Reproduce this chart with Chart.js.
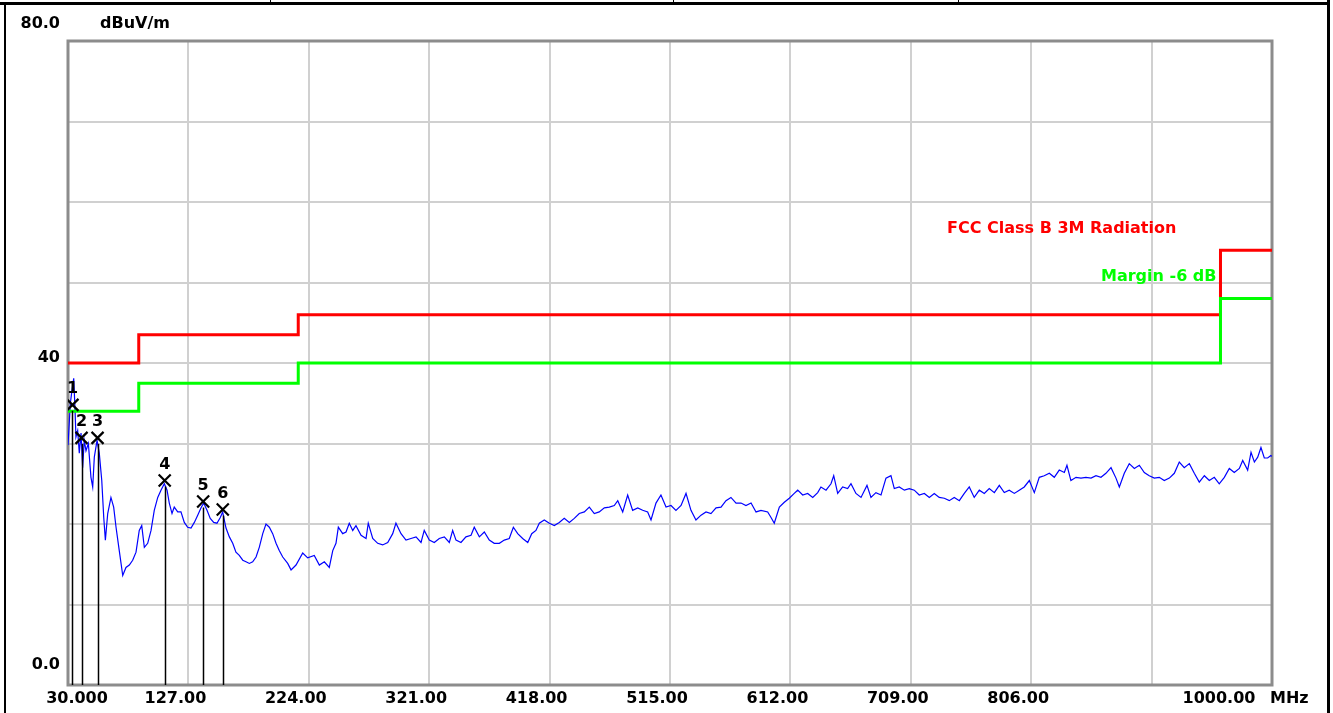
<!DOCTYPE html>
<html>
<head>
<meta charset="utf-8">
<script src="https://cdn.jsdelivr.net/npm/chart.js@4.4.1/dist/chart.umd.min.js"></script>
<style>
  html, body { margin: 0; padding: 0; background: #fff; }
  canvas { display: block; }
</style>
</head>
<body>
<canvas id="emiChart" width="1333" height="713"></canvas>
<script>
// axis ticks
const xTicks = [30, 127, 224, 321, 418, 515, 612, 709, 806, 903, 1000];
const xTickLabels = ['30.000', '127.00', '224.00', '321.00', '418.00', '515.00', '612.00', '709.00', '806.00', '', '1000.00'];
const yTicks = [0, 10, 20, 30, 40, 50, 60, 70, 80];
const yTickLabels = { 80: '80.0', 40: '40', 0: '0.0' };

// limit lines (MHz / dBuV/m)
const limitFreq = [30, 87, 87, 215.5, 215.5, 958.5, 958.5, 1000];
const limitLevel = [40, 40, 43.5, 43.5, 46, 46, 54, 54];
const marginLevel = [34, 34, 37.5, 37.5, 40, 40, 48, 48];

// measured trace
const traceFreq = [
  30.0, 31.9, 33.2, 34.6, 35.6, 36.4, 37.8, 39.1, 40.5, 41.8, 43.1, 44.5, 46.4, 48.5, 49.9, 51.2, 53.4, 55.2, 57.2, 58.8,
  60.1, 62.0, 64.6, 66.8, 68.7, 71.3, 74.1, 76.7, 79.4, 82.1, 84.8, 87.4, 89.4, 91.5, 94.2, 96.9, 99.5, 102.3, 104.9, 107.6,
  109.8, 111.6, 113.8, 115.6, 118.4, 121.0, 123.7, 126.4, 129.1, 131.8, 134.5, 137.1, 139.3, 142.0, 144.6, 147.4, 150.0, 152.7, 154.6, 157.3,
  160.0, 162.7, 165.3, 168.0, 170.8, 173.4, 176.1, 178.8, 181.5, 184.1, 186.9, 189.5, 192.2, 194.9, 197.6, 200.2, 203.0, 207.0, 209.7, 213.7,
  219.1, 223.1, 228.4, 232.5, 236.5, 240.5, 243.3, 245.9, 247.8, 251.3, 254.0, 256.6, 259.4, 262.0, 266.1, 270.1, 271.9, 275.5, 279.5, 283.5,
  287.6, 291.6, 294.2, 298.3, 302.3, 306.3, 310.4, 314.4, 317.0, 321.1, 325.1, 329.1, 333.2, 337.2, 339.9, 342.6, 346.6, 350.6, 354.7, 357.3,
  361.4, 365.4, 369.4, 373.4, 377.5, 381.5, 385.5, 388.8, 392.3, 396.3, 400.4, 403.6, 407.0, 409.7, 413.7, 417.8, 421.8, 425.8, 429.8, 433.9,
  437.9, 441.9, 446.0, 450.0, 454.0, 458.0, 462.1, 466.1, 470.1, 472.9, 476.9, 480.9, 484.9, 489.0, 493.0, 497.0, 499.7, 503.7, 507.7, 511.8,
  515.8, 519.8, 523.9, 527.9, 531.9, 535.9, 540.0, 544.0, 548.0, 552.1, 556.1, 560.1, 564.1, 568.2, 572.2, 576.2, 580.3, 584.3, 588.3, 593.7,
  596.4, 599.0, 603.1, 607.1, 611.1, 615.1, 617.9, 621.9, 625.9, 630.0, 634.0, 636.6, 640.7, 644.7, 646.9, 650.1, 654.1, 658.1, 660.8, 664.8,
  668.9, 673.7, 676.9, 680.9, 685.0, 689.0, 693.0, 695.7, 699.7, 703.8, 707.8, 711.8, 715.8, 719.9, 723.9, 727.9, 731.9, 736.0, 740.0, 744.0,
  748.1, 752.1, 756.1, 760.1, 764.2, 768.2, 772.2, 776.3, 780.3, 784.3, 788.3, 792.4, 796.4, 800.4, 804.5, 808.5, 812.5, 816.5, 820.6, 824.6,
  828.6, 832.7, 834.8, 838.0, 842.1, 846.1, 850.1, 854.2, 858.2, 862.2, 866.2, 870.3, 874.3, 877.0, 881.0, 885.0, 889.1, 893.1, 897.1, 901.1,
  905.2, 909.2, 913.2, 917.3, 921.3, 925.3, 929.3, 933.4, 937.4, 941.4, 945.5, 949.5, 953.5, 957.5, 961.6, 965.6, 969.6, 973.7, 976.4, 980.4,
  983.1, 985.8, 988.5, 991.1, 993.8, 996.5, 999.1, 1000.0
];
const traceLevel = [
  29.8, 35.0, 36.6, 38.1, 34.5, 30.8, 31.6, 28.8, 31.3, 27.0, 30.4, 29.1, 30.0, 25.8, 24.6, 28.3, 30.4, 28.8, 25.4, 20.8,
  18.0, 21.3, 23.3, 22.1, 19.6, 16.7, 13.6, 14.6, 14.9, 15.5, 16.5, 19.2, 19.8, 17.1, 17.6, 19.2, 21.7, 23.3, 24.2, 25.0,
  24.2, 22.6, 21.3, 22.1, 21.5, 21.5, 20.2, 19.6, 19.5, 20.2, 21.1, 22.0, 22.6, 21.7, 20.7, 20.2, 20.1, 20.8, 21.5, 19.5,
  18.4, 17.6, 16.5, 16.1, 15.5, 15.3, 15.1, 15.3, 15.9, 17.1, 18.8, 20.0, 19.6, 18.8, 17.6, 16.7, 15.9, 15.1, 14.3, 14.9,
  16.4, 15.8, 16.1, 14.9, 15.3, 14.6, 16.7, 17.6, 19.6, 18.8, 19.0, 20.1, 19.2, 19.8, 18.6, 18.2, 20.1, 18.2, 17.6, 17.4,
  17.7, 18.8, 20.1, 18.8, 18.0, 18.2, 18.4, 17.7, 19.2, 18.0, 17.7, 18.2, 18.4, 17.7, 19.2, 18.0, 17.7, 18.4, 18.6, 19.6,
  18.4, 19.0, 18.0, 17.6, 17.6, 18.0, 18.2, 19.6, 18.8, 18.2, 17.7, 18.8, 19.2, 20.1, 20.5, 20.1, 19.8, 20.2, 20.7, 20.2,
  20.7, 21.3, 21.5, 22.1, 21.3, 21.5, 22.0, 22.1, 22.3, 22.9, 21.5, 23.6, 21.7, 22.0, 21.7, 21.5, 20.5, 22.6, 23.6, 22.1,
  22.3, 21.7, 22.3, 23.8, 21.7, 20.5, 21.1, 21.5, 21.3, 22.0, 22.1, 22.9, 23.3, 22.6, 22.6, 22.3, 22.6, 21.5, 21.7, 21.5,
  20.8, 20.1, 22.1, 22.7, 23.2, 23.8, 24.2, 23.6, 23.8, 23.3, 23.9, 24.6, 24.2, 25.0, 26.0, 23.8, 24.6, 24.4, 25.0, 23.8,
  23.3, 24.8, 23.3, 23.9, 23.6, 25.7, 26.0, 24.4, 24.6, 24.2, 24.4, 24.2, 23.6, 23.8, 23.3, 23.8, 23.3, 23.2, 22.9, 23.3,
  22.9, 23.8, 24.6, 23.3, 24.2, 23.8, 24.4, 23.9, 24.8, 23.9, 24.2, 23.8, 24.2, 24.6, 25.4, 23.9, 25.8, 26.0, 26.3, 25.8,
  26.7, 26.4, 27.3, 25.4, 25.8, 25.7, 25.8, 25.7, 26.0, 25.8, 26.3, 27.0, 25.7, 24.6, 26.3, 27.5, 26.9, 27.3, 26.4, 26.0,
  25.7, 25.8, 25.4, 25.7, 26.3, 27.7, 27.0, 27.5, 26.3, 25.2, 26.0, 25.4, 25.8, 25.0, 25.8, 26.9, 26.4, 26.9, 27.9, 26.7,
  28.9, 27.7, 28.3, 29.5, 28.2, 28.2, 28.5, 28.4
];

// peak markers
const markerLabels = ['1', '2', '3', '4', '5', '6'];
const markerFreq = [33.6, 40.9, 53.8, 107.9, 138.9, 154.7];
const markerLevel = [34.8, 30.7, 30.7, 25.4, 22.8, 21.8];

const FONT = 'bold 16px "DejaVu Sans", sans-serif';

const toPoints = (xs, ys) => xs.map((x, i) => ({ x, y: ys[i] }));

const emiDecor = {
  id: 'emiDecor',
  beforeDraw(chart) {
    const { ctx } = chart;
    ctx.save();
    ctx.fillStyle = '#fff';
    ctx.fillRect(0, 0, chart.width, chart.height);
    // window frame
    ctx.fillStyle = '#000';
    ctx.fillRect(0, 2, 1330, 3);
    ctx.fillRect(4, 2, 2, chart.height);
    ctx.fillRect(1327, 0, 3, chart.height);
    [270, 673, 958].forEach((x) => ctx.fillRect(x, 0, 1, 3));
    ctx.restore();
  },
  beforeDatasetsDraw(chart) {
    const { ctx, chartArea: a } = chart;
    ctx.save();
    ctx.strokeStyle = '#8c8c8c';
    ctx.lineWidth = 3;
    ctx.strokeRect(a.left, a.top, a.right - a.left, a.bottom - a.top);
    ctx.restore();
  },
  afterDatasetsDraw(chart) {
    const { ctx, chartArea: a, scales: { x, y } } = chart;
    ctx.save();
    // marker drop lines and numbers
    ctx.strokeStyle = '#000';
    ctx.lineWidth = 1.5;
    markerFreq.forEach((f, i) => {
      const px = Math.round(x.getPixelForValue(f)) + 0.5;
      const py = y.getPixelForValue(markerLevel[i]);
      ctx.beginPath();
      ctx.moveTo(px, py + 6);
      ctx.lineTo(px, a.bottom);
      ctx.stroke();
    });
    ctx.font = FONT;
    ctx.fillStyle = '#000';
    ctx.textAlign = 'center';
    ctx.textBaseline = 'middle';
    markerFreq.forEach((f, i) => {
      ctx.fillText(markerLabels[i], x.getPixelForValue(f), y.getPixelForValue(markerLevel[i]) - 16);
    });

    // limit captions
    ctx.textAlign = 'left';
    ctx.fillStyle = '#ff0000';
    ctx.fillText('FCC Class B 3M Radiation', 947, 229);
    ctx.fillStyle = '#00ff00';
    ctx.fillText('Margin -6 dB', 1101, 277);

    // x tick labels
    ctx.fillStyle = '#000';
    ctx.textAlign = 'center';
    xTicks.forEach((v, i) => {
      let px = x.getPixelForValue(v) - 13;
      if (i === 0) px = x.getPixelForValue(v) + 9;
      if (i === xTicks.length - 1) px = x.getPixelForValue(v) - 53;
      ctx.fillText(xTickLabels[i], px, 699);
    });
    ctx.textAlign = 'left';
    ctx.fillText('MHz', 1270, 699);

    // y tick labels
    ctx.textAlign = 'right';
    ctx.fillText(yTickLabels[80], 60, y.getPixelForValue(80) - 17);
    ctx.fillText(yTickLabels[40], 60, y.getPixelForValue(40) - 5);
    ctx.fillText(yTickLabels[0], 60, y.getPixelForValue(0) - 20);
    ctx.textAlign = 'left';
    ctx.fillText('dBuV/m', 100, y.getPixelForValue(80) - 17);
    ctx.restore();
  }
};

new Chart(document.getElementById('emiChart'), {
  type: 'line',
  data: {
    datasets: [
      {
        label: 'Peaks',
        data: toPoints(markerFreq, markerLevel),
        showLine: false,
        pointStyle: 'crossRot',
        pointRadius: 8.5,
        pointBorderWidth: 2.2,
        borderColor: '#000',
        order: 0
      },
      {
        label: 'Margin -6 dB',
        data: toPoints(limitFreq, marginLevel),
        borderColor: '#00ff00',
        borderWidth: 3,
        pointRadius: 0,
        order: 1
      },
      {
        label: 'FCC Class B 3M Radiation',
        data: toPoints(limitFreq, limitLevel),
        borderColor: '#ff0000',
        borderWidth: 3,
        pointRadius: 0,
        order: 2
      },
      {
        label: 'Trace',
        data: toPoints(traceFreq, traceLevel),
        borderColor: '#0000ff',
        borderWidth: 1.2,
        pointRadius: 0,
        tension: 0,
        order: 3
      }
    ]
  },
  options: {
    responsive: false,
    animation: false,
    layout: { padding: { left: 68, top: 41, right: 61, bottom: 28 } },
    plugins: { legend: { display: false }, tooltip: { enabled: false } },
    scales: {
      x: {
        type: 'linear',
        min: 30,
        max: 1000,
        afterBuildTicks: (s) => { s.ticks = xTicks.map((value) => ({ value })); },
        afterFit: (s) => { s.height = 0; },
        grid: { color: '#d0d0d0', lineWidth: 2, drawTicks: false },
        border: { display: false },
        ticks: { display: false }
      },
      y: {
        min: 0,
        max: 80,
        afterBuildTicks: (s) => { s.ticks = yTicks.map((value) => ({ value })); },
        afterFit: (s) => { s.width = 0; },
        grid: { color: '#d0d0d0', lineWidth: 2, drawTicks: false },
        border: { display: false },
        ticks: { display: false }
      }
    }
  },
  plugins: [emiDecor]
});
</script>
</body>
</html>
